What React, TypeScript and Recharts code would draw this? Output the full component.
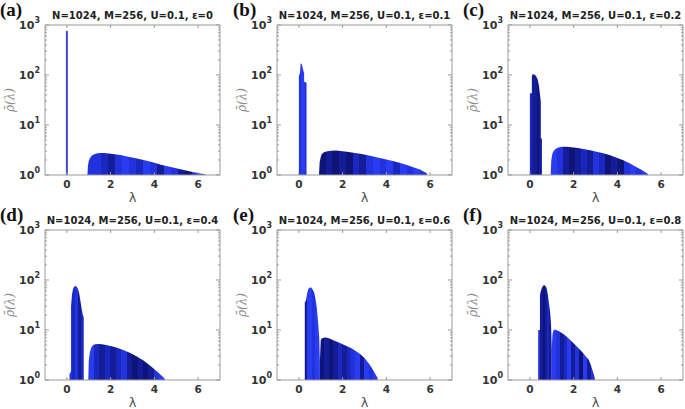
import { Area, ComposedChart, ReferenceArea, XAxis, YAxis } from 'recharts'

// axes
const lambdaTicks = [0, 2, 4, 6]
const decades = [1, 10, 100, 1000]
const epsilons = ['0', '0.1', '0.2', '0.4', '0.6', '0.8']
const panelLabels = ['(a)', '(b)', '(c)', '(d)', '(e)', '(f)']

// (a) eps = 0
const spikeAX = [-0.045, -0.045, 0.045, 0.045]
const spikeAY = [1, 760, 760, 1]
const bulkAX = [0.94, 0.96, 1.0, 1.05, 1.1, 1.2, 1.35, 1.5, 1.7, 1.9, 2.2, 2.5, 2.8, 3.1, 3.4, 3.7, 4.0, 4.3, 4.6, 4.9, 5.2, 5.5, 5.8, 6.1, 6.3, 6.35, 6.35]
const bulkAY = [1, 1.5, 1.9, 2.15, 2.35, 2.55, 2.68, 2.74, 2.75, 2.7, 2.6, 2.47, 2.33, 2.2, 2.05, 1.9, 1.75, 1.6, 1.5, 1.4, 1.3, 1.22, 1.14, 1.07, 1.03, 1.02, 1]

// (b) eps = 0.1
const spikeBX = [0, 0, 0.05, 0.08, 0.12, 0.16, 0.2, 0.24, 0.24, 0.35, 0.35]
const spikeBY = [1, 95, 110, 170, 168, 150, 125, 110, 73, 70, 1]
const bulkBX = [0.92, 0.95, 1.0, 1.05, 1.15, 1.3, 1.5, 1.7, 1.9, 2.2, 2.5, 2.8, 3.1, 3.4, 3.7, 4.0, 4.3, 4.6, 4.9, 5.2, 5.5, 5.7, 5.85, 5.85]
const bulkBY = [1, 1.8, 2.3, 2.6, 2.85, 3.0, 3.07, 3.08, 3.02, 2.93, 2.8, 2.65, 2.5, 2.35, 2.2, 2.05, 1.9, 1.75, 1.6, 1.45, 1.3, 1.18, 1.08, 1]

// (c) eps = 0.2
const spikeCX = [0, 0, 0.09, 0.09, 0.13, 0.18, 0.24, 0.3, 0.36, 0.41, 0.45, 0.48, 0.5, 0.5, 0.55, 0.55]
const spikeCY = [1, 43, 43, 95, 103, 104, 100, 92, 80, 62, 45, 35, 30, 5.4, 5.4, 1]
const bulkCX = [0.95, 0.98, 1.03, 1.1, 1.2, 1.35, 1.5, 1.7, 1.9, 2.2, 2.5, 2.8, 3.1, 3.4, 3.7, 4.0, 4.3, 4.6, 4.9, 5.1, 5.3, 5.4, 5.4]
const bulkCY = [1, 2.0, 2.7, 3.1, 3.4, 3.6, 3.68, 3.68, 3.6, 3.45, 3.28, 3.1, 2.9, 2.7, 2.45, 2.2, 1.95, 1.68, 1.42, 1.27, 1.12, 1.05, 1]

// (d) eps = 0.4
const spikeDX = [0.12, 0.12, 0.19, 0.19, 0.23, 0.28, 0.33, 0.38, 0.44, 0.5, 0.56, 0.62, 0.68, 0.73, 0.77, 0.77]
const spikeDY = [1, 1.3, 1.5, 30, 50, 65, 73, 76, 74, 68, 55, 38, 26, 20, 18, 1]
const bulkDX = [0.98, 1.0, 1.05, 1.12, 1.2, 1.3, 1.45, 1.6, 1.8, 2.0, 2.3, 2.6, 2.9, 3.2, 3.5, 3.8, 4.0, 4.2, 4.35, 4.45, 4.48, 4.48]
const bulkDY = [1, 2.4, 3.6, 4.5, 5.0, 5.2, 5.25, 5.2, 5.0, 4.8, 4.4, 3.95, 3.45, 2.95, 2.45, 1.95, 1.65, 1.38, 1.2, 1.08, 1.03, 1]

// (e) eps = 0.6
const spikeEX = [0.27, 0.27, 0.33, 0.38, 0.43, 0.5, 0.56, 0.62, 0.7, 0.76, 0.82, 0.88, 0.93, 0.96, 0.96]
const spikeEY = [1, 35, 40, 55, 66, 71, 71, 66, 56, 42, 28, 14, 7, 2.3, 1]
const bulkEX = [0.96, 0.96, 1.0, 1.05, 1.12, 1.2, 1.3, 1.45, 1.6, 1.8, 2.0, 2.2, 2.4, 2.6, 2.8, 3.0, 3.2, 3.35, 3.5, 3.6, 3.6]
const bulkEY = [1, 2.3, 6.3, 6.8, 7.0, 7.1, 7.0, 6.6, 6.2, 5.7, 5.2, 4.75, 4.3, 3.8, 3.3, 2.75, 2.15, 1.7, 1.3, 1.1, 1]

// (f) eps = 0.8
const spikeFX = [0.38, 0.38, 0.46, 0.46, 0.5, 0.55, 0.6, 0.65, 0.7, 0.76, 0.82, 0.88, 0.93, 0.97, 1.0, 1.0]
const spikeFY = [1, 10, 10, 50, 60, 70, 76, 79, 77, 70, 52, 32, 22, 12, 4, 1]
const bulkFX = [1.0, 1.0, 1.03, 1.07, 1.12, 1.2, 1.35, 1.5, 1.65, 1.8, 1.95, 2.1, 2.25, 2.4, 2.55, 2.7, 2.8, 2.9, 2.97, 2.97]
const bulkFY = [1, 4, 8, 9.6, 10.2, 10.0, 9.3, 8.5, 7.6, 6.6, 5.7, 4.9, 4.2, 3.6, 3.0, 2.5, 1.9, 1.4, 1.1, 1]

// stripe shades
const bright = '#2a3cf2'
const blue = '#2232dc'
const mid = '#1b28c0'
const dark = '#141c98'
const navy = '#0f1578'

const pts = (xs: number[], ys: number[]) => xs.map((x, i) => ({ x, y: ys[i] }))

const panels = [
  { spike: pts(spikeAX, spikeAY), bulk: pts(bulkAX, bulkAY), spikeShades: ['#3a44d4'], bulkShades: [blue, blue, mid, dark, blue, bright, blue, mid, bright, blue, dark, bright, blue, dark, navy, blue, bright] },
  { spike: pts(spikeBX, spikeBY), bulk: pts(bulkBX, bulkBY), spikeShades: [blue, bright, bright, blue], bulkShades: [navy, dark, navy, dark, navy, mid, dark, blue, bright, blue, bright, mid, bright, blue, bright, blue] },
  { spike: pts(spikeCX, spikeCY), bulk: pts(bulkCX, bulkCY), spikeShades: [mid, dark, dark, navy, dark], bulkShades: [bright, blue, dark, navy, dark, mid, dark, blue, mid, navy, dark, navy, blue, bright, blue, bright] },
  { spike: pts(spikeDX, spikeDY), bulk: pts(bulkDX, bulkDY), spikeShades: [blue, mid, blue, dark, mid], bulkShades: [bright, mid, dark, mid, dark, mid, blue, dark, navy, dark, navy, dark, blue, bright] },
  { spike: pts(spikeEX, spikeEY), bulk: pts(bulkEX, bulkEY), spikeShades: [dark, bright, bright, blue, bright, bright], bulkShades: [navy, dark, navy, dark, mid, dark, mid, blue, bright, dark, bright, blue, bright] },
  { spike: pts(spikeFX, spikeFY), bulk: pts(bulkFX, bulkFY), spikeShades: [blue, dark, navy, dark, mid, dark], bulkShades: [bright, blue, dark, mid, bright, dark, blue, navy, bright, dark, blue] },
]

const yTicks = decades.flatMap((d, i) =>
  i < decades.length - 1 ? [1, 2, 3, 4, 5, 6, 7, 8, 9].map((k) => k * d) : [d],
)

const PLOT_W = 175
const PLOT_H = 150
const tickFont = { fontFamily: '"DejaVu Sans", sans-serif', fontWeight: 700, fill: '#333' }

function stripeStops(shades: string[]) {
  const n = shades.length
  return shades.flatMap((c, i) => [
    <stop key={`${i}a`} offset={i / n} stopColor={c} />,
    <stop key={`${i}b`} offset={(i + 1) / n} stopColor={c} />,
  ])
}

function XTick({ x, y, payload }: any) {
  const bottom = y - 4
  return (
    <g>
      <line x1={x} x2={x} y1={bottom} y2={bottom - 3} stroke="#999" />
      <line x1={x} x2={x} y1={bottom - PLOT_H} y2={bottom - PLOT_H + 3} stroke="#999" />
      <text x={x} y={y + 5} textAnchor="middle" dominantBaseline="central" fontSize={10.5} {...tickFont}>
        {payload.value}
      </text>
    </g>
  )
}

function YTick({ x, y, payload }: any) {
  const v = payload.value
  const lg = Math.log10(v)
  const major = Math.abs(lg - Math.round(lg)) < 1e-6
  const left = x + 5
  const len = major ? 4 : 2
  return (
    <g>
      <line x1={left} x2={left + len} y1={y} y2={y} stroke="#999" />
      <line x1={left + PLOT_W} x2={left + PLOT_W - len} y1={y} y2={y} stroke="#999" />
      {major && (
        <text x={x} y={y} textAnchor="end" dominantBaseline="central" fontSize={11} {...tickFont}>
          10
          <tspan dy={-5} fontSize={8}>
            {Math.round(lg)}
          </tspan>
        </text>
      )}
    </g>
  )
}

function Panel({ idx, left, top }: { idx: number; left: number; top: number }) {
  const p = panels[idx]
  return (
    <div style={{ position: 'absolute', left, top, width: 223, height: 205 }}>
      <div
        style={{
          position: 'absolute',
          left: 45,
          top: 10,
          width: PLOT_W,
          textAlign: 'center',
          fontFamily: '"DejaVu Sans", sans-serif',
          fontWeight: 700,
          fontSize: 10,
          lineHeight: '12px',
          color: '#222',
          whiteSpace: 'nowrap',
        }}
      >
        N=1024, M=256, U=0.1, ε={epsilons[idx]}
      </div>
      <div
        style={{
          position: 'absolute',
          left: 2,
          top: 100,
          transform: 'translate(-50%, -50%) rotate(-90deg)',
          marginLeft: 8,
          fontFamily: '"DejaVu Serif", serif',
          fontStyle: 'italic',
          fontSize: 12,
          color: '#8a8a8a',
          whiteSpace: 'nowrap',
        }}
      >
        ρ̄(λ)
      </div>
      <div
        style={{
          position: 'absolute',
          left: 45,
          top: 191,
          width: PLOT_W,
          textAlign: 'center',
          fontFamily: '"DejaVu Sans", sans-serif',
          fontSize: 13,
          lineHeight: '13px',
          color: '#555',
        }}
      >
        λ
      </div>
      <ComposedChart width={223} height={205} margin={{ top: 25, right: 3, bottom: 0, left: 0 }}>
        <defs>
          <linearGradient id={`spike${idx}`} x1="0" y1="0" x2="1" y2="0">
            {stripeStops(p.spikeShades)}
          </linearGradient>
          <linearGradient id={`bulk${idx}`} x1="0" y1="0" x2="1" y2="0">
            {stripeStops(p.bulkShades)}
          </linearGradient>
        </defs>
        <XAxis
          dataKey="x"
          type="number"
          domain={[-1, 7]}
          ticks={lambdaTicks}
          interval={0}
          allowDataOverflow
          height={30}
          axisLine={false}
          tickLine={false}
          tickSize={0}
          tickMargin={4}
          tick={<XTick />}
        />
        <YAxis
          type="number"
          scale="log"
          domain={[1, 1000]}
          ticks={yTicks}
          interval={0}
          allowDataOverflow
          width={45}
          axisLine={false}
          tickLine={false}
          tickSize={0}
          tickMargin={5}
          tick={<YTick />}
        />
        <Area
          data={p.spike}
          dataKey="y"
          type="linear"
          baseValue={1}
          stroke="none"
          fill={`url(#spike${idx})`}
          fillOpacity={1}
          dot={false}
          activeDot={false}
          isAnimationActive={false}
        />
        <Area
          data={p.bulk}
          dataKey="y"
          type="linear"
          baseValue={1}
          stroke="none"
          fill={`url(#bulk${idx})`}
          fillOpacity={1}
          dot={false}
          activeDot={false}
          isAnimationActive={false}
        />
        <ReferenceArea x1={-1} x2={7} y1={1} y2={1000} fill="none" stroke="#999" strokeWidth={1} />
      </ComposedChart>
    </div>
  )
}

const colLefts = [0, 232, 463]
const labelLefts = [0, 233, 463]
const rowTops = [0, 205]

export default function App() {
  return (
    <div style={{ position: 'absolute', left: 0, top: 0, width: 685, height: 409, background: '#fff', overflow: 'hidden' }}>
      {panels.map((_, i) => {
        const col = i % 3
        const row = Math.floor(i / 3)
        return (
          <div key={i}>
            <Panel idx={i} left={colLefts[col]} top={rowTops[row]} />
            <div
              style={{
                position: 'absolute',
                left: labelLefts[col],
                top: rowTops[row],
                fontFamily: '"Liberation Serif", serif',
                fontWeight: 700,
                fontSize: 19,
                lineHeight: '20px',
                color: '#111',
              }}
            >
              {panelLabels[i]}
            </div>
          </div>
        )
      })}
    </div>
  )
}
